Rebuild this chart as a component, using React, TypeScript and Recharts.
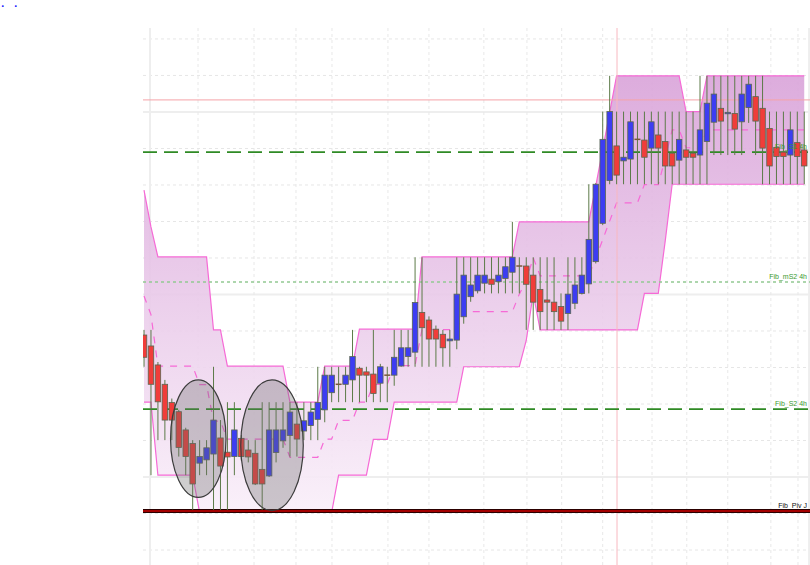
import React from 'react';
import { ComposedChart, Bar, Area, Line, XAxis, YAxis, ReferenceLine, ReferenceArea } from 'recharts';

// candle values (index 0..95)
const opens = [58.9,55.9,50.7,45.4,40.4,37.9,32.9,29.2,23.8,24.7,26.3,30.7,26.8,25.6,30.6,27.4,26.5,22.1,20.3,26.7,29.9,31.4,34.5,32.6,34.1,35.8,38.4,43.1,45.4,45.4,46.6,49.8,48.8,48.2,45.7,47.9,47.9,50.4,53.0,54.2,65.1,63.0,60.5,59.1,57.3,57.5,63.9,69.4,71.0,73.1,74.2,73.5,74.4,76.1,77.8,77.8,75.3,71.4,68.5,67.9,66.7,64.8,67.6,70.3,72.9,79.0,89.5,101.2,110.7,106.6,107.1,112.5,112.3,110.1,113.7,111.9,108.7,106.8,109.6,108.7,108.2,111.9,117.2,121.0,119.5,119.6,117.3,121.2,124.2,121.0,115.5,110.3,109.0,108.2,111.6,109.6];
const highs = [60.3,60.3,51.5,46.6,41.5,38.4,33.5,30.1,30.1,30.1,50.2,35.6,40.5,40.5,31.5,30.1,30.1,40.5,40.5,40.5,40.5,40.5,40.5,40.5,40.5,50.2,50.2,50.2,50.2,50.2,60.3,50.2,50.2,60.3,51.0,50.2,60.3,60.3,60.3,80.2,80.2,64.0,61.5,60.3,60.3,80.2,80.2,80.2,80.2,80.2,80.2,80.2,80.2,89.9,80.2,80.2,80.2,80.2,80.2,80.2,70.3,80.2,80.2,80.2,100.2,100.5,120.1,129.9,120.1,120.1,120.1,120.1,120.1,120.1,120.1,120.1,120.1,120.1,120.1,120.1,129.9,129.9,129.9,129.9,129.9,129.9,129.9,129.9,129.9,129.9,120.1,120.1,120.1,120.1,120.1,120.1];
const lows = [50.2,20.5,30.1,30.1,30.1,25.6,20.5,11.0,20.5,20.5,11.0,11.0,11.0,20.5,24.5,24.0,17.8,11.0,20.0,24.0,28.0,25.6,25.6,30.1,30.1,30.1,35.0,40.5,40.5,40.5,40.5,40.5,40.5,40.5,40.5,40.5,45.0,50.2,50.2,50.2,50.2,50.2,50.2,50.2,50.2,55.0,62.0,68.0,70.3,70.3,70.3,70.3,70.3,70.3,70.3,60.3,60.3,60.3,60.3,60.3,60.3,60.3,66.0,70.0,70.3,78.5,89.0,100.2,100.2,100.2,100.2,100.2,100.2,100.2,100.2,100.2,100.2,100.2,100.2,100.2,100.2,100.2,108.2,108.2,108.2,108.2,108.2,117.0,108.2,100.2,100.2,100.2,100.2,100.2,100.2,100.2];
const closes = [52.8,45.4,40.6,35.6,35.6,28.1,25.6,18.1,25.6,28.0,35.6,23.0,25.5,32.9,25.6,25.5,18.1,18.1,32.9,32.9,32.9,37.8,30.4,35.4,37.8,40.4,47.9,47.9,45.4,47.9,53.0,47.9,47.9,42.9,50.2,47.9,52.8,55.4,55.4,67.8,60.9,57.8,57.8,55.4,57.8,70.1,75.3,72.6,75.3,75.3,72.8,75.3,77.6,80.2,77.8,72.8,67.9,65.3,67.9,65.3,62.7,70.1,72.6,75.3,85.1,100.2,112.5,120.1,102.7,107.6,117.3,112.5,107.6,117.3,110.1,105.2,105.2,112.5,107.6,107.6,115.1,122.4,124.9,117.5,119.9,115.3,124.9,127.6,117.5,110.1,105.2,107.8,107.8,115.1,107.8,105.2];

// price channel
const bandUpper = [98.6,88.5,80.3,80.3,80.3,80.3,80.3,80.3,80.3,80.3,60.3,60.3,50.4,50.4,50.4,50.4,50.4,50.4,50.4,50.4,50.4,40.5,40.5,40.5,40.5,40.5,50.4,50.4,50.4,50.4,50.4,60.5,60.5,60.5,60.5,60.5,60.5,60.5,60.5,60.5,80.3,80.3,80.3,80.3,80.3,80.3,80.3,80.3,80.3,80.3,80.3,80.3,80.3,80.3,89.9,89.9,89.9,89.9,89.9,89.9,89.9,89.9,89.9,89.9,89.9,99.7,109.7,119.8,129.9,129.9,129.9,129.9,129.9,129.9,129.9,129.9,129.9,129.9,120.1,120.1,120.1,129.9,129.9,129.9,129.9,129.9,129.9,129.9,129.9,129.9,129.9,129.9,129.9,129.9,129.9,129.9];
const bandLower = [40.5,40.5,20.5,20.5,20.5,20.5,20.5,20.5,10.3,10.3,10.3,10.3,10.3,10.3,10.3,10.3,10.3,10.3,10.3,10.3,10.3,10.3,10.3,10.3,10.3,10.3,10.3,10.3,20.5,20.5,20.5,20.5,20.5,30.3,30.3,30.3,40.5,40.5,40.5,40.5,40.5,40.5,40.5,40.5,40.5,40.5,50.2,50.2,50.2,50.2,50.2,50.2,50.2,50.2,50.2,57.4,70.3,60.3,60.3,60.3,60.3,60.3,60.3,60.3,60.3,60.3,60.3,60.3,60.3,60.3,60.3,60.3,70.3,70.3,70.3,84.7,100.2,100.2,100.2,100.2,100.2,100.2,100.2,100.2,100.2,100.2,100.2,100.2,100.2,100.2,100.2,100.2,100.2,100.2,100.2,100.2];
const bandMid = [69.6,64.5,50.4,50.4,50.4,50.4,50.4,50.4,45.3,45.3,35.3,35.3,30.4,30.4,30.4,30.4,30.4,30.4,30.4,30.4,30.4,25.4,25.4,25.4,25.4,25.4,30.4,30.4,35.5,35.5,35.5,40.5,40.5,45.4,45.4,45.4,50.5,50.5,50.5,50.5,60.4,60.4,60.4,60.4,60.4,60.4,65.3,65.3,65.3,65.3,65.3,65.3,65.3,65.3,70.1,73.7,80.1,75.1,75.1,75.1,75.1,75.1,75.1,75.1,75.1,80.0,85.0,90.1,95.1,95.1,95.1,95.1,100.1,100.1,100.1,107.3,115.1,115.1,110.2,110.2,110.2,115.1,115.1,115.1,115.1,115.1,115.1,115.1,115.1,115.1,115.1,115.1,115.1,115.1,115.1,115.1];

// grid
const hGridMinor = [0, 10, 30, 40, 50, 60, 80, 90, 100, 110, 130, 140];
const hGridMajor = [20, 70, 120];
const vGridMinor = [7.77, 15.83, 21.87, 27.05, 35.1, 41.0, 48.9, 55.1, 60.1, 66.0, 73.1, 78.1, 84.0, 90.2, 94.1];
const vGridMajor = [0.86, 95.7];

// levels
const fibDashed = [
  { v: 109.0, name: 'Fib_S1 4h' },
  { v: 38.6, name: 'Fib_S2 4h' },
];
const fibDotted = [{ v: 73.4, name: 'Fib_mS2 4h' }];
const pivLevel = { v: 10.7, name: 'Fib_Piv J' };
const pinkLevel = 123.3;
const cursorX = 68.06;

const ellipses = [
  { cx: 7.81, cy: 30.5, rx: 3.99, ry: 16.1 },
  { cx: 18.42, cy: 28.7, rx: 4.5, ry: 17.9 },
];

const data = opens.map((o, i) => ({
  i,
  o,
  h: highs[i],
  l: lows[i],
  c: closes[i],
  range: [lows[i], highs[i]],
  band: [bandLower[i], bandUpper[i]],
  up: bandUpper[i],
  lo: bandLower[i],
  mid: bandMid[i],
}));

const Candle = (props: any) => {
  const { x, y, width, height, payload } = props;
  if (!payload || x == null) return null;
  const { o, c, h, l } = payload;
  const top = Math.min(y, y + height);
  const hh = Math.abs(height);
  const ratio = hh / (h - l);
  const yOf = (v: number) => top + (h - v) * ratio;
  const cx = x + width / 2;
  const bTop = yOf(Math.max(o, c));
  const bBot = yOf(Math.min(o, c));
  const wick = '#5c7a48';
  let body: any;
  if (o === c) {
    body = <line x1={cx - 3} x2={cx + 3} y1={bTop} y2={bTop} stroke="#7a5a3a" strokeWidth={1.5} />;
  } else {
    const fill = c > o ? '#3d3df2' : '#f03d3a';
    body = (
      <rect x={cx - 2.75} y={bTop} width={5.5} height={Math.max(1, bBot - bTop)} fill={fill} stroke="#5a6650" strokeWidth={0.8} />
    );
  }
  return (
    <g>
      <line x1={cx} x2={cx} y1={yOf(h)} y2={yOf(l)} stroke={wick} strokeWidth={1} />
      {body}
    </g>
  );
};

const EllipseShape = (props: any) => {
  const { x, y, width, height } = props;
  return (
    <ellipse
      cx={x + width / 2}
      cy={y + height / 2}
      rx={Math.abs(width) / 2}
      ry={Math.abs(height) / 2}
      fill="rgba(105,105,105,0.33)"
      stroke="#3c3c3c"
      strokeWidth={1.2}
    />
  );
};

const dotStyle: any = {
  position: 'absolute',
  top: 2,
  display: 'block',
  height: 4,
  lineHeight: '4px',
  overflow: 'visible',
  color: '#1a1aff',
  fontSize: 9,
  fontWeight: 'bold',
  fontFamily: 'DejaVu Sans',
};

export default function App() {
  return (
    <div style={{ position: 'absolute', left: 0, top: 0, width: 810, height: 565, background: '#fff', overflow: 'hidden' }}>
      <span style={{ ...dotStyle, left: 1 }}>.</span>
      <span style={{ ...dotStyle, left: 14 }}>.</span>
      <ComposedChart
        width={810}
        height={565}
        data={data}
        margin={{ top: 28, right: 0, bottom: 0, left: 143 }}
        style={{ fontFamily: 'Liberation Sans, Arial, sans-serif' }}
      >
        <defs>
          <linearGradient id="bandFill" x1="0" y1="0" x2="0" y2="1">
            <stop offset="0%" stopColor="#d9a3d9" stopOpacity={0.9} />
            <stop offset="100%" stopColor="#f9eff9" stopOpacity={0.9} />
          </linearGradient>
        </defs>
        <XAxis dataKey="i" type="number" domain={[-0.144, 95.83]} allowDataOverflow hide />
        <YAxis type="number" domain={[-4.1, 143]} allowDataOverflow hide />

        {hGridMinor.map((v) => (
          <ReferenceLine key={'hg' + v} y={v} stroke="#e6e6e6" strokeDasharray="3 3" zIndex={-100} />
        ))}
        {hGridMajor.map((v) => (
          <ReferenceLine key={'hm' + v} y={v} stroke="#eeeeee" strokeWidth={2} zIndex={-100} />
        ))}
        {vGridMinor.map((v) => (
          <ReferenceLine key={'vg' + v} x={v} stroke="#e8e8e8" strokeDasharray="3 3" zIndex={-100} />
        ))}
        {vGridMajor.map((v) => (
          <ReferenceLine key={'vm' + v} x={v} stroke="#eeeeee" strokeWidth={2} zIndex={-100} />
        ))}

        <Area dataKey="band" type="linear" stroke="none" fill="url(#bandFill)" fillOpacity={1} isAnimationActive={false} zIndex={100} />
        <Line dataKey="up" type="linear" stroke="#f66ad6" strokeWidth={1.2} dot={false} activeDot={false} isAnimationActive={false} zIndex={150} />
        <Line dataKey="lo" type="linear" stroke="#f66ad6" strokeWidth={1.2} dot={false} activeDot={false} isAnimationActive={false} zIndex={150} />
        <Line dataKey="mid" type="linear" stroke="#f66ad6" strokeWidth={1.2} strokeDasharray="7 7" dot={false} activeDot={false} isAnimationActive={false} zIndex={150} />

        <ReferenceLine y={pinkLevel} stroke="#f5a3a8" strokeWidth={1} zIndex={200} />
        <ReferenceLine x={cursorX} stroke="#f8b8c0" strokeWidth={1} zIndex={200} />
        {fibDotted.map((f) => (
          <ReferenceLine
            key={f.name}
            y={f.v}
            stroke="#92c992"
            strokeWidth={1.5}
            strokeDasharray="3 3"
            zIndex={200}
            label={{ value: f.name, position: 'insideBottomRight', offset: 3, fill: '#3a9a30', fontSize: 7 }}
          />
        ))}
        {fibDashed.map((f) => (
          <ReferenceLine
            key={f.name}
            y={f.v}
            stroke="#2f8a25"
            strokeWidth={1.8}
            strokeDasharray="14 7"
            zIndex={200}
            label={{ value: f.name, position: 'insideBottomRight', offset: 3, fill: '#3a9a30', fontSize: 7 }}
          />
        ))}
        <ReferenceLine y={pivLevel.v} stroke="#2a0000" strokeWidth={4} zIndex={200} />
        <ReferenceLine
          y={pivLevel.v}
          stroke="#a30000"
          strokeWidth={2}
          zIndex={201}
          label={{ value: pivLevel.name, position: 'insideBottomRight', offset: 3, fill: '#111', fontSize: 7 }}
        />

        <Bar dataKey="range" barSize={5} shape={<Candle />} isAnimationActive={false} zIndex={300} />

        {ellipses.map((e, k) => (
          <ReferenceArea
            key={'el' + k}
            x1={e.cx - e.rx}
            x2={e.cx + e.rx}
            y1={e.cy - e.ry}
            y2={e.cy + e.ry}
            shape={<EllipseShape />}
            zIndex={350}
          />
        ))}
      </ComposedChart>
    </div>
  );
}
